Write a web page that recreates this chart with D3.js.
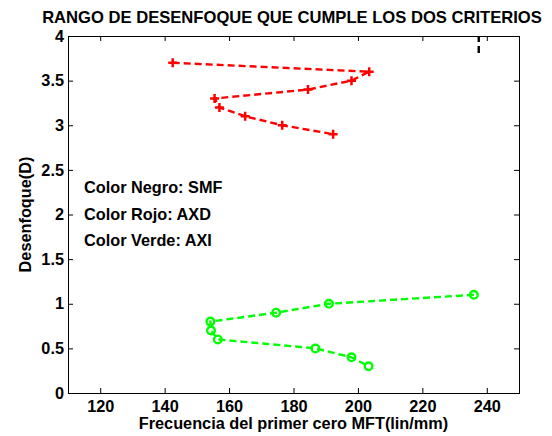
<!DOCTYPE html>
<html>
<head>
<meta charset="utf-8">
<script src="https://cdn.jsdelivr.net/npm/d3@7"></script>
<style>
  body { margin: 0; background: #fff; }
  text { font-family: "Liberation Sans", Arial, sans-serif; font-weight: bold; }
</style>
</head>
<body>
<div id="chart"></div>
<script>
// series: frequency (lin/mm) vs defocus (D)
var redFreq   = [142.5, 203.5, 198, 184.5, 155.5, 157, 165, 176.5, 192.3]
var redDef    = [3.7, 3.6, 3.5, 3.4, 3.3, 3.2, 3.1, 3.0, 2.9]
var greenFreq = [236, 191, 174.6, 154.2, 154.4, 156.5, 186.8, 198, 203.3]
var greenDef  = [1.1, 1.0, 0.9, 0.8, 0.7, 0.6, 0.5, 0.4, 0.3]
var blackFreq = [237.5, 237.5]
var blackDef  = [3.81, 4.3]
var xTicks = [120, 140, 160, 180, 200, 220, 240]
var yTicks = [0, 0.5, 1, 1.5, 2, 2.5, 3, 3.5, 4]
var legendLines = ["Color Negro: SMF", "Color Rojo: AXD", "Color Verde: AXI"]

var W = 552, H = 436
var pLeft = 68, pRight = 519, pTop = 36, pBottom = 393
var fs = 16.3

var svg = d3.select("#chart").append("svg")
  .attr("width", W)
  .attr("height", H)

var x = d3.scaleLinear().domain([110, 250]).range([pLeft, pRight])
var y = d3.scaleLinear().domain([0, 4]).range([pBottom, pTop])

svg.append("defs").append("clipPath").attr("id", "plotclip")
  .append("rect").attr("x", pLeft).attr("y", pTop).attr("width", pRight - pLeft).attr("height", pBottom - pTop)

// axes with inner ticks on all four sides
var tl = 5
svg.append("g").attr("transform", "translate(0," + pBottom + ")")
  .call(d3.axisBottom(x).tickValues(xTicks).tickSize(-tl).tickPadding(7.5).tickFormat(d3.format("d")))
svg.append("g").attr("transform", "translate(0," + pTop + ")")
  .call(d3.axisTop(x).tickValues(xTicks).tickSize(-tl).tickFormat(""))
svg.append("g").attr("transform", "translate(" + pLeft + ",0)")
  .call(d3.axisLeft(y).tickValues(yTicks).tickSize(-tl).tickPadding(4).tickFormat(d => d))
svg.append("g").attr("transform", "translate(" + pRight + ",0)")
  .call(d3.axisRight(y).tickValues(yTicks).tickSize(-tl).tickFormat(""))

svg.selectAll(".domain").attr("stroke", "#000")
svg.selectAll(".tick line").attr("stroke", "#000")
svg.selectAll(".tick text").attr("font-size", fs).attr("font-family", "'Liberation Sans', Arial, sans-serif")
  .attr("font-weight", "bold").attr("fill", "#000")

var plot = svg.append("g").attr("clip-path", "url(#plotclip)")

function series(xs, ys, color) {
  var pts = xs.map((v, i) => [x(v), y(ys[i])])
  plot.append("path")
    .attr("d", d3.line()(pts))
    .attr("fill", "none")
    .attr("stroke", color)
    .attr("stroke-width", 2.4)
    .attr("stroke-dasharray", "7,4")
  return pts
}

series(blackFreq, blackDef, "#000")

var redPts = series(redFreq, redDef, "#ff0000")
plot.selectAll(".plus").data(redPts).enter()
  .append("path")
  .attr("d", d => "M" + (d[0] - 4.5) + "," + d[1] + "h9M" + d[0] + "," + (d[1] - 4.5) + "v9")
  .attr("stroke", "#ff0000")
  .attr("stroke-width", 2.5)

var greenPts = series(greenFreq, greenDef, "#00ff00")
plot.selectAll(".circ").data(greenPts).enter()
  .append("circle")
  .attr("cx", d => d[0])
  .attr("cy", d => d[1])
  .attr("r", 3.8)
  .attr("fill", "none")
  .attr("stroke", "#00ff00")
  .attr("stroke-width", 2.4)

// legend-ish notes
svg.selectAll(".note").data(legendLines).enter()
  .append("text")
  .attr("x", 84)
  .attr("y", (d, i) => 193 + i * 26.5)
  .attr("font-size", fs)
  .text(d => d)

svg.append("text")
  .attr("x", 292).attr("y", 23)
  .attr("text-anchor", "middle")
  .attr("font-size", 16.6)
  .text("RANGO DE DESENFOQUE QUE CUMPLE LOS DOS CRITERIOS")

svg.append("text")
  .attr("x", (pLeft + pRight) / 2).attr("y", 429)
  .attr("text-anchor", "middle")
  .attr("font-size", fs)
  .text("Frecuencia del primer cero MFT(lin/mm)")

svg.append("text")
  .attr("transform", "translate(31," + (pTop + pBottom) / 2 + ") rotate(-90)")
  .attr("text-anchor", "middle")
  .attr("font-size", fs)
  .text("Desenfoque(D)")
</script>
</body>
</html>
